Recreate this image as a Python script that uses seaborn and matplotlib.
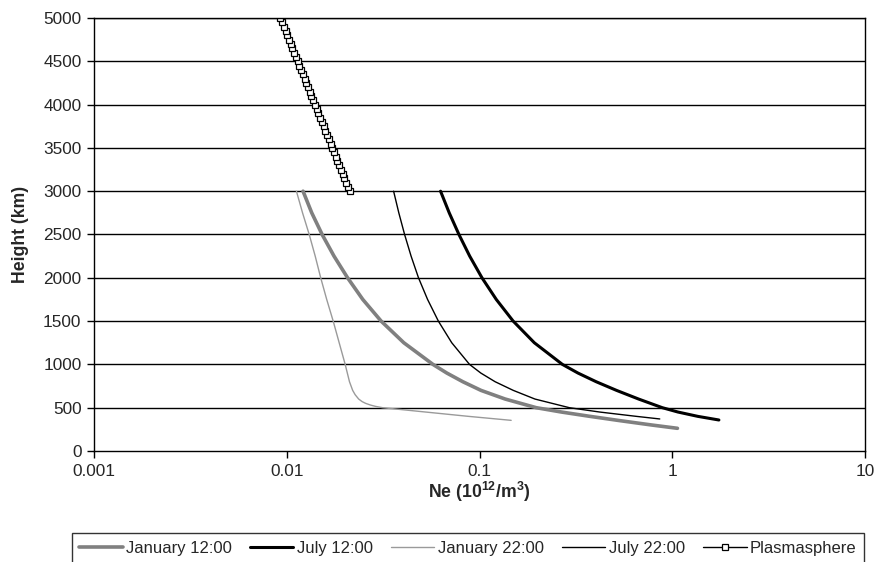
import matplotlib
matplotlib.use("Agg")
import matplotlib.pyplot as plt
import pandas as pd
import seaborn as sns
from matplotlib.ticker import FixedLocator, NullLocator, FixedFormatter

# ---------- dados ----------
jan12_h = [3000, 2750, 2500, 2250, 2000, 1750, 1500, 1250, 1000, 900, 800, 700, 600,
           500, 450, 400, 350, 300, 262]
jan12_ne = [0.01215, 0.01348, 0.01526, 0.01759, 0.02068, 0.02480, 0.03088, 0.04049, 0.05734,
            0.0677, 0.08195, 0.1018, 0.1359, 0.1971, 0.2660, 0.3742, 0.5372, 0.7832, 1.064]

jul12_h = [3000, 2750, 2500, 2250, 2000, 1750, 1500, 1250, 1000, 900, 800, 700, 600,
           500, 450, 400, 358]
jul12_ne = [0.0628, 0.06966, 0.07823, 0.08896, 0.1030, 0.1222, 0.1495, 0.1925, 0.2692,
            0.3243, 0.4029, 0.5139, 0.6690, 0.8886, 1.0703, 1.3571, 1.7458]

jan22_h = [3000, 2750, 2500, 2250, 2000, 1750, 1500, 1250, 1000, 800, 700, 650, 600, 570,
           550, 530, 515, 500, 475, 450, 425, 400, 354]
jan22_ne = [0.011227, 0.012076, 0.013079, 0.01405, 0.015003, 0.016118, 0.017416, 0.018707,
            0.020098, 0.021157, 0.021979, 0.022641, 0.023612, 0.024617, 0.025665, 0.027238,
            0.028914, 0.031434, 0.04063, 0.052517, 0.067858, 0.0877, 0.14597]

jul22_h = [3000, 2750, 2500, 2250, 2000, 1750, 1500, 1250, 1000, 900, 800, 700, 600,
           500, 450, 400, 370]
jul22_ne = [0.03584, 0.03814, 0.04087, 0.04417, 0.04825, 0.05378, 0.06117, 0.07178, 0.08876,
            0.1016, 0.1205, 0.1497, 0.1939, 0.2927, 0.4201, 0.6516, 0.8614]

plasma_h = list(range(3000, 5001, 50))
plasma_ne = [0.02118, 0.02075, 0.02032, 0.01991, 0.01950, 0.01910, 0.01871, 0.01833, 0.01795,
             0.01758, 0.01722, 0.01687, 0.01653, 0.01619, 0.01586, 0.01553, 0.01521, 0.01490,
             0.01460, 0.01430, 0.01401, 0.01372, 0.01344, 0.01316, 0.01289, 0.01263, 0.01237,
             0.01212, 0.01187, 0.01163, 0.01139, 0.01116, 0.01093, 0.01071, 0.01049, 0.01027,
             0.01006, 0.00986, 0.00965, 0.00946, 0.00926]

x_ticks = [0.001, 0.01, 0.1, 1, 10]
x_tick_labels = ["0.001", "0.01", "0.1", "1", "10"]
y_ticks = list(range(0, 5001, 500))

series = [
    ("January 12:00", jan12_ne, jan12_h),
    ("July 12:00", jul12_ne, jul12_h),
    ("January 22:00", jan22_ne, jan22_h),
    ("July 22:00", jul22_ne, jul22_h),
    ("Plasmasphere", plasma_ne, plasma_h),
]
df = pd.concat(
    [pd.DataFrame({"ne": ne, "h": h, "serie": nome}) for nome, ne, h in series],
    ignore_index=True,
)

estilos = {
    "January 12:00": dict(color="#808080", linewidth=2.6),
    "July 12:00": dict(color="black", linewidth=2.2),
    "January 22:00": dict(color="#9a9a9a", linewidth=1.0),
    "July 22:00": dict(color="black", linewidth=1.0),
    "Plasmasphere": dict(color="black", linewidth=1.0, marker="s", markersize=4.2,
                         markerfacecolor="white", markeredgecolor="black", markeredgewidth=0.9),
}

# ---------- gráfico ----------
sns.set_style("white")
plt.rcParams["font.family"] = ["Liberation Sans", "DejaVu Sans"]
plt.rcParams["mathtext.fontset"] = "custom"
plt.rcParams["mathtext.rm"] = "Liberation Sans"
plt.rcParams["mathtext.bf"] = "Liberation Sans:bold"

fig = plt.figure(figsize=(8.77, 5.62), dpi=100)
ax = fig.add_axes([94 / 877, 1 - 451 / 562, (865 - 94) / 877, (451 - 18) / 562])

for nome, _, _ in series:
    sns.lineplot(data=df[df["serie"] == nome], x="ne", y="h", sort=False, estimator=None,
                 ax=ax, label=nome, **estilos[nome])

ax.set_xscale("log")
ax.set_xlim(0.001, 10)
ax.set_ylim(0, 5000)
ax.xaxis.set_major_locator(FixedLocator(x_ticks))
ax.xaxis.set_major_formatter(FixedFormatter(x_tick_labels))
ax.xaxis.set_minor_locator(NullLocator())
ax.set_yticks(y_ticks)

for y in y_ticks[1:]:
    ax.axhline(y, color="black", linewidth=1.0, zorder=0)

for s in ax.spines.values():
    s.set_color("black")
    s.set_linewidth(1.0)

ax.tick_params(axis="both", which="major", direction="out", length=5, width=1,
               color="black", labelsize=12.4, pad=4, left=True, bottom=True)

ax.set_xlabel(r"Ne (10$^{\mathbf{12}}$/m$^{\mathbf{3}}$)", fontsize=12.7, fontweight="bold", labelpad=1)
ax.set_ylabel("Height (km)", fontsize=12.7, fontweight="bold", labelpad=10)

ax.get_legend().remove()
handles, labels = ax.get_legend_handles_labels()
leg = fig.legend(handles, labels, loc="upper right", bbox_to_anchor=(864 / 877, 1 - 533 / 562),
                 ncol=5, frameon=True, fancybox=False, fontsize=12, handlelength=2.6,
                 handletextpad=0.2, columnspacing=1.1, borderpad=0.45, borderaxespad=0)
leg.get_frame().set_edgecolor("black")
leg.get_frame().set_linewidth(1.0)

plt.savefig("out.png", dpi=100)
plt.close()
